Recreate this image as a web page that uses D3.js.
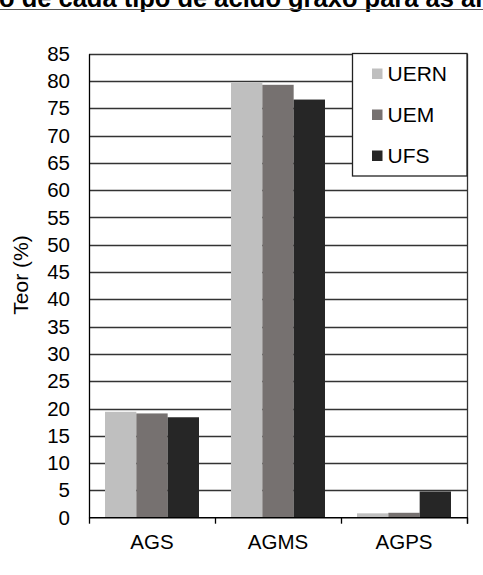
<!DOCTYPE html>
<html>
<head>
<meta charset="utf-8">
<script src="https://cdn.jsdelivr.net/npm/d3@7"></script>
<style>
  html, body { margin: 0; padding: 0; background: #fff; }
  svg { display: block; font-family: "Liberation Sans", Arial, sans-serif; }
</style>
</head>
<body>
<svg id="chart" width="483" height="575"></svg>
<script>
// Fatty-acid classes and the share (%) of each in the three samples
const categories = ["AGS", "AGMS", "AGPS"];
const seriesNames = ["UERN", "UEM", "UFS"];
const valuesUERN = [19.4, 79.7, 0.8];
const valuesUEM  = [19.1, 79.3, 0.9];
const valuesUFS  = [18.4, 76.6, 4.8];
const yTicks = d3.range(0, 86, 5);
const titleText = "Conteúdo de cada tipo de ácido graxo para as amostras";
const yAxisTitle = "Teor (%)";

const seriesValues = [valuesUERN, valuesUEM, valuesUFS];
const colors = ["#bfbfbf", "#767170", "#262626"];

const svg = d3.select("#chart");
const plot = { left: 89, right: 467, top: 53.7, bottom: 517.7 };
const labelSize = 20.5;

// Title (runs past the top/left of the canvas) with the rule beneath it
const titleSize = 25.5;
const title = svg.append("text")
  .attr("y", 7)
  .attr("font-size", titleSize)
  .attr("font-weight", "bold")
  .attr("fill", "#000")
  .text(titleText);
const prefix = svg.append("text").attr("font-size", titleSize).attr("font-weight", "bold")
  .attr("visibility", "hidden").text("Conteúd");
const prefixLen = prefix.node().getComputedTextLength();
prefix.remove();
title.attr("x", -1 - prefixLen);

svg.append("line")
  .attr("x1", 0).attr("x2", 483).attr("y1", 9.5).attr("y2", 9.5)
  .attr("stroke", "#555").attr("stroke-width", 1);

// Scales
const y = d3.scaleLinear().domain([0, 85]).range([plot.bottom, plot.top]);
const x0 = d3.scaleBand().domain(categories).range([plot.left, plot.right])
  .paddingInner(0.254).paddingOuter(0.127);
const x1 = d3.scaleBand().domain(seriesNames).range([0, x0.bandwidth()]).padding(0);

// Horizontal gridlines
svg.append("g")
  .selectAll("line")
  .data(yTicks.filter(d => d > 0))
  .join("line")
  .attr("x1", plot.left).attr("x2", plot.right)
  .attr("y1", d => Math.round(y(d)) + 0.5).attr("y2", d => Math.round(y(d)) + 0.5)
  .attr("stroke", "#333").attr("stroke-width", 1.3);

// Right border of the plot area
svg.append("line")
  .attr("x1", plot.right + 0.5).attr("x2", plot.right + 0.5)
  .attr("y1", plot.top).attr("y2", plot.bottom + 6)
  .attr("stroke", "#333").attr("stroke-width", 1.3);

// Bars
const groups = svg.append("g")
  .selectAll("g")
  .data(categories)
  .join("g")
  .attr("transform", d => `translate(${x0(d)},0)`);

groups.selectAll("rect")
  .data((c, i) => seriesNames.map((s, k) => ({ s, k, v: seriesValues[k][i] })))
  .join("rect")
  .attr("x", d => x1(d.s))
  .attr("width", x1.bandwidth())
  .attr("y", d => y(d.v))
  .attr("height", d => y(0) - y(d.v))
  .attr("fill", d => colors[d.k]);

// Y axis
const yAxis = d3.axisLeft(y).tickValues(yTicks).tickSize(0).tickPadding(19);
const gy = svg.append("g")
  .attr("transform", `translate(${plot.left},0)`)
  .call(yAxis);
gy.select(".domain").attr("stroke", "#000").attr("stroke-width", 1.3);
gy.selectAll("text").attr("font-size", labelSize).attr("fill", "#000")
  .attr("font-family", "'Liberation Sans', Arial, sans-serif");

// X axis with category-boundary ticks
const gx = svg.append("g")
  .attr("transform", `translate(0,${plot.bottom})`);
gx.append("line")
  .attr("x1", plot.left).attr("x2", plot.right + 1)
  .attr("stroke", "#000").attr("stroke-width", 1.5);
const boundaries = categories.map(c => x0(c) - x0.step() * x0.paddingOuter())
  .concat([plot.right]);
gx.selectAll(".tk")
  .data(boundaries)
  .join("line")
  .attr("class", "tk")
  .attr("x1", d => d + 0.5).attr("x2", d => d + 0.5)
  .attr("y1", 0).attr("y2", 6)
  .attr("stroke", "#000").attr("stroke-width", 1.3);
gx.selectAll(".lbl")
  .data(categories)
  .join("text")
  .attr("class", "lbl")
  .attr("x", d => x0(d) + x0.bandwidth() / 2)
  .attr("y", 31.5)
  .attr("text-anchor", "middle")
  .attr("font-size", labelSize)
  .attr("fill", "#000")
  .text(d => d);

// Y axis title
svg.append("text")
  .attr("transform", "translate(28,275) rotate(-90)")
  .attr("text-anchor", "middle")
  .attr("font-size", 21)
  .attr("fill", "#000")
  .text(yAxisTitle);

// Legend
const lg = svg.append("g");
lg.append("rect")
  .attr("x", 352.5).attr("y", 53.5).attr("width", 114.5).attr("height", 122.5)
  .attr("fill", "#fff").attr("stroke", "#222").attr("stroke-width", 1.3);
const items = lg.selectAll(".item")
  .data(seriesNames)
  .join("g")
  .attr("class", "item")
  .attr("transform", (d, i) => `translate(372,${73.5 + i * 41})`);
items.append("rect")
  .attr("x", 0).attr("y", -5).attr("width", 10.5).attr("height", 10.5)
  .attr("fill", (d, i) => colors[i]);
items.append("text")
  .attr("x", 15.5).attr("y", 7.5)
  .attr("font-size", 21)
  .attr("fill", "#000")
  .text(d => d);
</script>
</body>
</html>
